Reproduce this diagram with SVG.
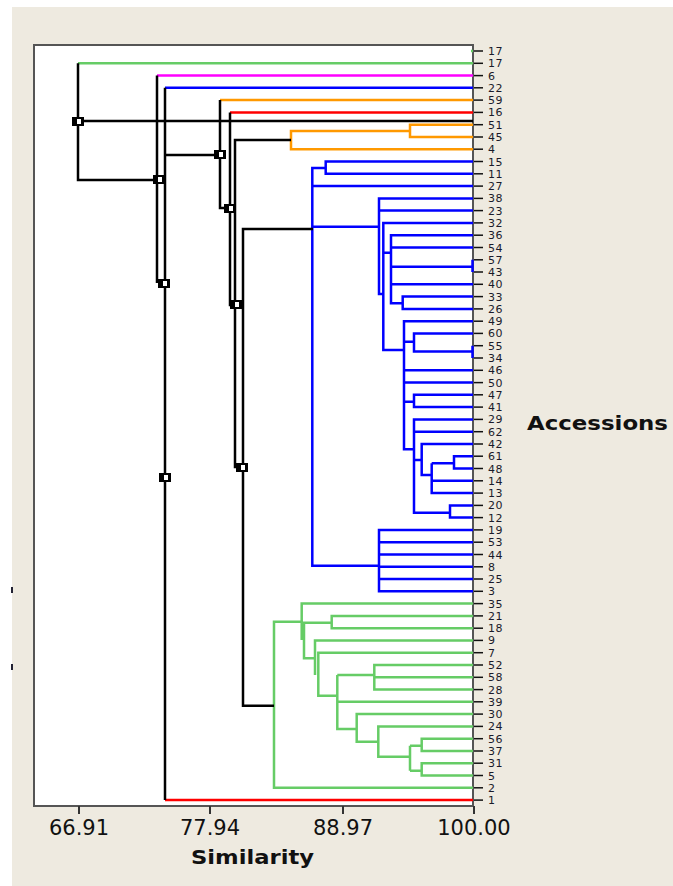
<svg xmlns="http://www.w3.org/2000/svg" xmlns:xlink="http://www.w3.org/1999/xlink" width="673" height="886" viewBox="0 0 673 886">
<style>
.ln{fill:none;stroke-width:2.5;stroke-linejoin:miter;stroke-linecap:butt}
.k{stroke:#000}
.g{stroke:#66CC66}
.b{stroke:#0000FF}
.o{stroke:#FF9900}
.r{stroke:#FF0000}
.m{stroke:#FF00FF}
.tk{stroke:#111;stroke-width:1.5}
.lab{font-family:"DejaVu Sans","Liberation Sans",sans-serif;font-size:11px;letter-spacing:0.6px;fill:#1a1a2a}
.ax{font-family:"DejaVu Sans","Liberation Sans",sans-serif;font-size:21px;fill:#111;text-anchor:middle}
.ttl{font-family:"DejaVu Sans","Liberation Sans",sans-serif;font-size:20px;font-weight:bold;fill:#111}
</style>
<defs>
<g id="mk"><rect x="0" y="0" width="12" height="9" fill="#000"/><rect x="5" y="2" width="4" height="5" fill="#fff"/></g>
</defs>
<rect x="0" y="0" width="673" height="886" fill="#ffffff"/>
<rect x="12" y="7" width="661" height="879" fill="#EEEAE0"/>
<rect x="11" y="587" width="2" height="6" fill="#223"/>
<rect x="11" y="664" width="2" height="6" fill="#223"/>
<g id="plot-frame">
<rect x="34" y="45" width="439" height="761" fill="#fff" stroke="#555" stroke-width="2"/>
<path d="M79 806V814M210 806V814M343 806V814M474 806V814" stroke="#333" stroke-width="2"/>
</g>
<g id="connectors">
<path class="ln g" d="M78 63.3H473M471 51H473"/>
<path class="ln m" d="M473 75.6H157"/>
<path class="ln b" d="M473 87.8H165"/>
<path class="ln o" d="M473 100.1H220"/>
<path class="ln r" d="M473 112.4H230"/>
<path class="ln o" d="M473 124.7H410V137H473M410 131H291V149.2H473"/>
<path class="ln b" d="M473 161.5H325.7V173.8H473M325.7 168H312.3V565.7H379M473 186.1H312.3M312.3 226.7H379M473 198.4H379V294H383.3M379 210.6H473M473 222.9H383.3V350H404M383.3 252.7H391M473 235.2H391V303.3H402.7M473 247.5H391M391 266.7H472.5M472.5 259.8V272M473 284.3H391M473 296.6H402.7V308.9H473M473 321.2H404V449.3H414M473 333.4H414V352.7M404 341.7H414M414 351.5H472.5M472.5 345.7V358M473 370.3H404M473 382.6H404M404 401.7H414M473 394.8H414V407.1H473M473 419.4H414V512.7H450M473 431.7H414M414 460H421.7M473 444H421.7V475H431.7M431.7 463.3H454M473 456.2H454V468.5H473M431.7 463.3V493.1H473M473 480.8H431.7M473 505.4H450V517.6H473M473 529.9H379V591.3H473M379 542.2H473M379 554.5H473M379 566.8H473M379 579H473"/>
<path class="ln g" d="M473 787.8H274V621.7H301.7M473 603.6H301.7V640M473 615.9H331.7V628.2H473M331.7 622.7H301.7M304 622.7V658.3H315M473 640.4H315V675M473 652.7H318.3V695.7H337.3M473 665H374.3V689.6H473M374.3 677.3H473M337.3 675H374.3M337.3 675V729H356.7M473 701.8H337.3M473 714.1H356.7V741.7H378.3M473 726.4H378.3V756.7H410M410 745.7V770.7M410 745.7H421.7M473 738.7H421.7V751H473M410 770.7H421.7M473 763.2H421.7V775.5H473"/>
<path class="ln r" d="M473 800.1H165"/>
<path class="ln k" d="M78 63.3V180H157M78 121H473M157 75.6V283M165 87.8V800.1M165 155H220M220 100.1V208H230M230 112.4V305H235M291 140H235V467H243M313 229H243V705.7H274"/>
<use xlink:href="#mk" x="72" y="117"/>
<use xlink:href="#mk" x="153" y="175"/>
<use xlink:href="#mk" x="214" y="150"/>
<use xlink:href="#mk" x="224" y="204"/>
<use xlink:href="#mk" x="158" y="279"/>
<use xlink:href="#mk" x="230" y="300"/>
<use xlink:href="#mk" x="159" y="473"/>
<use xlink:href="#mk" x="236" y="463"/>
</g>
<g id="leaf-r1"><path class="tk" d="M474 51H483"/><text class="lab" x="488" y="55">17</text></g>
<g id="leaf-r2"><path class="tk" d="M474 63.3H483"/><text class="lab" x="488" y="67.3">17</text></g>
<g id="leaf-r3"><path class="tk" d="M474 75.6H483"/><text class="lab" x="488" y="79.6">6</text></g>
<g id="leaf-r4"><path class="tk" d="M474 87.8H483"/><text class="lab" x="488" y="91.8">22</text></g>
<g id="leaf-r5"><path class="tk" d="M474 100.1H483"/><text class="lab" x="488" y="104.1">59</text></g>
<g id="leaf-r6"><path class="tk" d="M474 112.4H483"/><text class="lab" x="488" y="116.4">16</text></g>
<g id="leaf-r7"><path class="tk" d="M474 124.7H483"/><text class="lab" x="488" y="128.7">51</text></g>
<g id="leaf-r8"><path class="tk" d="M474 137H483"/><text class="lab" x="488" y="141">45</text></g>
<g id="leaf-r9"><path class="tk" d="M474 149.2H483"/><text class="lab" x="488" y="153.2">4</text></g>
<g id="leaf-r10"><path class="tk" d="M474 161.5H483"/><text class="lab" x="488" y="165.5">15</text></g>
<g id="leaf-r11"><path class="tk" d="M474 173.8H483"/><text class="lab" x="488" y="177.8">11</text></g>
<g id="leaf-r12"><path class="tk" d="M474 186.1H483"/><text class="lab" x="488" y="190.1">27</text></g>
<g id="leaf-r13"><path class="tk" d="M474 198.4H483"/><text class="lab" x="488" y="202.4">38</text></g>
<g id="leaf-r14"><path class="tk" d="M474 210.6H483"/><text class="lab" x="488" y="214.6">23</text></g>
<g id="leaf-r15"><path class="tk" d="M474 222.9H483"/><text class="lab" x="488" y="226.9">32</text></g>
<g id="leaf-r16"><path class="tk" d="M474 235.2H483"/><text class="lab" x="488" y="239.2">36</text></g>
<g id="leaf-r17"><path class="tk" d="M474 247.5H483"/><text class="lab" x="488" y="251.5">54</text></g>
<g id="leaf-r18"><path class="tk" d="M474 259.8H483"/><text class="lab" x="488" y="263.8">57</text></g>
<g id="leaf-r19"><path class="tk" d="M474 272H483"/><text class="lab" x="488" y="276">43</text></g>
<g id="leaf-r20"><path class="tk" d="M474 284.3H483"/><text class="lab" x="488" y="288.3">40</text></g>
<g id="leaf-r21"><path class="tk" d="M474 296.6H483"/><text class="lab" x="488" y="300.6">33</text></g>
<g id="leaf-r22"><path class="tk" d="M474 308.9H483"/><text class="lab" x="488" y="312.9">26</text></g>
<g id="leaf-r23"><path class="tk" d="M474 321.2H483"/><text class="lab" x="488" y="325.2">49</text></g>
<g id="leaf-r24"><path class="tk" d="M474 333.4H483"/><text class="lab" x="488" y="337.4">60</text></g>
<g id="leaf-r25"><path class="tk" d="M474 345.7H483"/><text class="lab" x="488" y="349.7">55</text></g>
<g id="leaf-r26"><path class="tk" d="M474 358H483"/><text class="lab" x="488" y="362">34</text></g>
<g id="leaf-r27"><path class="tk" d="M474 370.3H483"/><text class="lab" x="488" y="374.3">46</text></g>
<g id="leaf-r28"><path class="tk" d="M474 382.6H483"/><text class="lab" x="488" y="386.6">50</text></g>
<g id="leaf-r29"><path class="tk" d="M474 394.8H483"/><text class="lab" x="488" y="398.8">47</text></g>
<g id="leaf-r30"><path class="tk" d="M474 407.1H483"/><text class="lab" x="488" y="411.1">41</text></g>
<g id="leaf-r31"><path class="tk" d="M474 419.4H483"/><text class="lab" x="488" y="423.4">29</text></g>
<g id="leaf-r32"><path class="tk" d="M474 431.7H483"/><text class="lab" x="488" y="435.7">62</text></g>
<g id="leaf-r33"><path class="tk" d="M474 444H483"/><text class="lab" x="488" y="448">42</text></g>
<g id="leaf-r34"><path class="tk" d="M474 456.2H483"/><text class="lab" x="488" y="460.2">61</text></g>
<g id="leaf-r35"><path class="tk" d="M474 468.5H483"/><text class="lab" x="488" y="472.5">48</text></g>
<g id="leaf-r36"><path class="tk" d="M474 480.8H483"/><text class="lab" x="488" y="484.8">14</text></g>
<g id="leaf-r37"><path class="tk" d="M474 493.1H483"/><text class="lab" x="488" y="497.1">13</text></g>
<g id="leaf-r38"><path class="tk" d="M474 505.4H483"/><text class="lab" x="488" y="509.4">20</text></g>
<g id="leaf-r39"><path class="tk" d="M474 517.6H483"/><text class="lab" x="488" y="521.6">12</text></g>
<g id="leaf-r40"><path class="tk" d="M474 529.9H483"/><text class="lab" x="488" y="533.9">19</text></g>
<g id="leaf-r41"><path class="tk" d="M474 542.2H483"/><text class="lab" x="488" y="546.2">53</text></g>
<g id="leaf-r42"><path class="tk" d="M474 554.5H483"/><text class="lab" x="488" y="558.5">44</text></g>
<g id="leaf-r43"><path class="tk" d="M474 566.8H483"/><text class="lab" x="488" y="570.8">8</text></g>
<g id="leaf-r44"><path class="tk" d="M474 579H483"/><text class="lab" x="488" y="583">25</text></g>
<g id="leaf-r45"><path class="tk" d="M474 591.3H483"/><text class="lab" x="488" y="595.3">3</text></g>
<g id="leaf-r46"><path class="tk" d="M474 603.6H483"/><text class="lab" x="488" y="607.6">35</text></g>
<g id="leaf-r47"><path class="tk" d="M474 615.9H483"/><text class="lab" x="488" y="619.9">21</text></g>
<g id="leaf-r48"><path class="tk" d="M474 628.2H483"/><text class="lab" x="488" y="632.2">18</text></g>
<g id="leaf-r49"><path class="tk" d="M474 640.4H483"/><text class="lab" x="488" y="644.4">9</text></g>
<g id="leaf-r50"><path class="tk" d="M474 652.7H483"/><text class="lab" x="488" y="656.7">7</text></g>
<g id="leaf-r51"><path class="tk" d="M474 665H483"/><text class="lab" x="488" y="669">52</text></g>
<g id="leaf-r52"><path class="tk" d="M474 677.3H483"/><text class="lab" x="488" y="681.3">58</text></g>
<g id="leaf-r53"><path class="tk" d="M474 689.6H483"/><text class="lab" x="488" y="693.6">28</text></g>
<g id="leaf-r54"><path class="tk" d="M474 701.8H483"/><text class="lab" x="488" y="705.8">39</text></g>
<g id="leaf-r55"><path class="tk" d="M474 714.1H483"/><text class="lab" x="488" y="718.1">30</text></g>
<g id="leaf-r56"><path class="tk" d="M474 726.4H483"/><text class="lab" x="488" y="730.4">24</text></g>
<g id="leaf-r57"><path class="tk" d="M474 738.7H483"/><text class="lab" x="488" y="742.7">56</text></g>
<g id="leaf-r58"><path class="tk" d="M474 751H483"/><text class="lab" x="488" y="755">37</text></g>
<g id="leaf-r59"><path class="tk" d="M474 763.2H483"/><text class="lab" x="488" y="767.2">31</text></g>
<g id="leaf-r60"><path class="tk" d="M474 775.5H483"/><text class="lab" x="488" y="779.5">5</text></g>
<g id="leaf-r61"><path class="tk" d="M474 787.8H483"/><text class="lab" x="488" y="791.8">2</text></g>
<g id="leaf-r62"><path class="tk" d="M474 800.1H483"/><text class="lab" x="488" y="804.1">1</text></g>
<g id="axes">
<text class="ax" x="79" y="835">66.91</text>
<text class="ax" x="210" y="835">77.94</text>
<text class="ax" x="343" y="835">88.97</text>
<text class="ax" x="474" y="835">100.00</text>
<text class="ttl" x="191" y="864" textLength="123" lengthAdjust="spacingAndGlyphs">Similarity</text>
<text class="ttl" x="527" y="430" textLength="141" lengthAdjust="spacingAndGlyphs">Accessions</text>
</g>
</svg>
